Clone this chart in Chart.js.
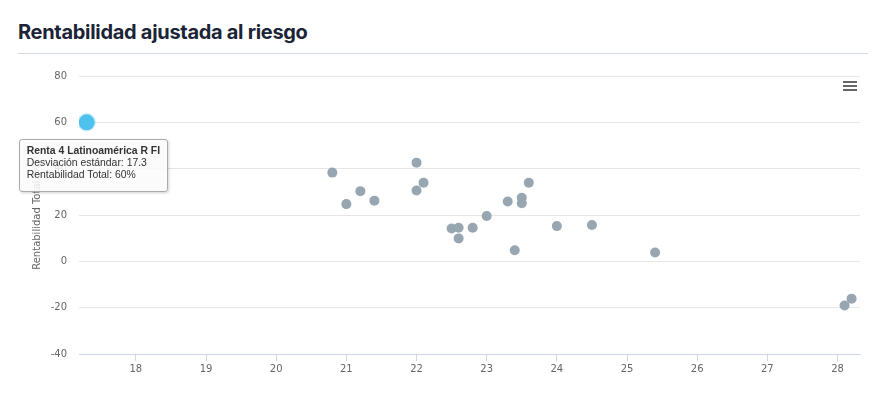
<!DOCTYPE html>
<html>
<head>
<meta charset="utf-8">
<script src="https://cdn.jsdelivr.net/npm/chart.js@4.4.0/dist/chart.umd.min.js"></script>
<style>
  html, body { margin: 0; padding: 0; background: #fff; }
  body { width: 896px; height: 398px; position: relative; overflow: hidden; }
  .title {
    position: absolute; left: 18px; top: 20px;
    font: 700 20px Inter, 'Open Sans', sans-serif; color: #1b2436;
    line-height: 24px; letter-spacing: -0.3px;
  }
  .rule { position: absolute; left: 18px; top: 53px; width: 850px; height: 1px; background: #d3dce6; }
  #wrap { position: absolute; left: 0; top: 56px; width: 896px; height: 342px; }
  .menu { position: absolute; left: 843px; top: 81px; width: 14px; }
  .menu span { display: block; height: 2px; background: #666; margin-bottom: 2px; }
  #tip {
    position: absolute; padding: 5px 7px 11px 7px;
    background: rgba(250,250,250,0.86); border: 1px solid #aaa; border-radius: 3px;
    box-shadow: 1px 1px 3px rgba(0,0,0,0.18);
    font: 10.4px 'Liberation Sans', Arial, sans-serif; color: #333; line-height: 11.6px;
    white-space: nowrap;
  }
  #tip b { font-weight: 700; }
</style>
</head>
<body>
<div class="title">Rentabilidad ajustada al riesgo</div>
<div class="rule"></div>
<div id="wrap"><canvas id="chart"></canvas></div>
<div class="menu"><span></span><span></span><span></span></div>
<div id="tip"></div>
<script>
// Desviación estándar (x) / Rentabilidad Total % (y)
const stdDev      = [20.8, 21.0, 21.2, 21.4, 22.0, 22.0, 22.1, 22.5, 22.6, 22.6, 22.8, 23.0, 23.3, 23.4, 23.5, 23.5, 23.6, 24.0, 24.5, 25.4, 28.1, 28.2];
const totalReturn = [38.3, 24.7, 30.3, 26.2, 42.6, 30.6, 33.9, 14.2, 14.5, 9.9, 14.5, 19.6, 25.8, 4.8, 27.4, 25.1, 33.9, 15.2, 15.7, 3.8, -19.1, -16.1];

// highlighted fund (tooltip)
const hiName = 'Renta 4 Latinoamérica R FI';
const hiStd  = [17.3];
const hiRet  = [60];

const xTicks = [18, 19, 20, 21, 22, 23, 24, 25, 26, 27, 28];
const yTicks = [-40, -20, 0, 20, 40, 60, 80];
const xMin = 17.19, xMax = 28.32;

const tickFont = { family: "'DejaVu Sans', Verdana, sans-serif", size: 10 };

// HTML tooltip pinned to the highlighted point
const tipPlugin = {
  id: 'tipPlugin',
  afterDraw(chart) {
    const pt = chart.getDatasetMeta(1).data[0];
    const tip = document.getElementById('tip');
    tip.innerHTML = '<b>' + hiName + '</b><br>Desviación estándar: ' + hiStd[0] +
      '<br>Rentabilidad Total: ' + hiRet[0] + '%';
    const wrap = document.getElementById('wrap');
    tip.style.left = (wrap.offsetLeft + pt.x - 68) + 'px';
    tip.style.top  = (wrap.offsetTop + pt.y + 17) + 'px';
  }
};

new Chart(document.getElementById('chart'), {
  type: 'scatter',
  data: {
    datasets: [
      {
        data: stdDev.map((x, i) => ({ x, y: totalReturn[i] })),
        backgroundColor: '#98a6b2',
        borderWidth: 0,
        pointRadius: 5,
      },
      {
        data: hiStd.map((x, i) => ({ x, y: hiRet[i] })),
        backgroundColor: '#4ec1ee',
        borderColor: 'rgba(78,193,238,0.22)',
        borderWidth: 3,
        pointRadius: 8,
      },
    ],
  },
  options: {
    responsive: true,
    maintainAspectRatio: false,
    animation: false,
    events: [],
    layout: { padding: { top: 20, right: 36, left: 0, bottom: 0 } },
    plugins: { legend: { display: false }, tooltip: { enabled: false } },
    scales: {
      x: {
        type: 'linear',
        min: xMin,
        max: xMax,
        afterBuildTicks: s => { s.ticks = xTicks.map(v => ({ value: v })); },
        afterFit: s => { s.height = 44; },
        grid: { drawOnChartArea: false, drawTicks: true, tickLength: 7, color: '#ccd6eb' },
        border: { display: true, color: '#ccd6eb' },
        ticks: { font: tickFont, color: '#666', padding: 2 },
      },
      y: {
        min: -40,
        max: 80,
        afterBuildTicks: s => { s.ticks = yTicks.map(v => ({ value: v })); },
        afterFit: s => { s.width = 79; },
        grid: { color: '#e6e6e6', drawTicks: false },
        border: { display: false },
        ticks: { font: tickFont, color: '#666', padding: 12 },
        title: {
          display: true,
          text: 'Rentabilidad Total (%)',
          color: '#666',
          font: { family: "'DejaVu Sans', Verdana, sans-serif", size: 10 },
          padding: { top: 31, bottom: 0 },
        },
      },
    },
  },
  plugins: [tipPlugin],
});
</script>
</body>
</html>
